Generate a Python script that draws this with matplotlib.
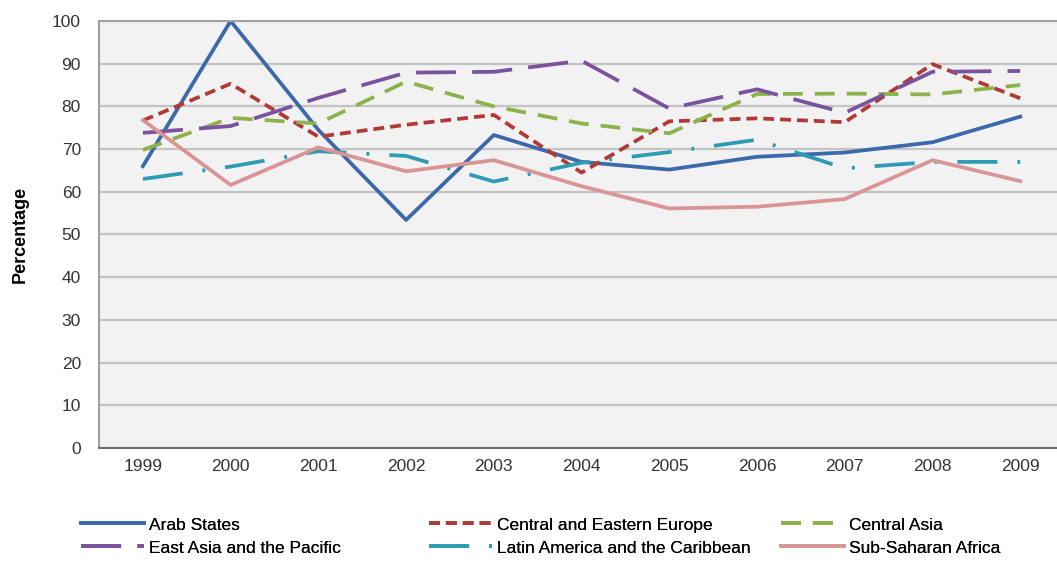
import matplotlib.pyplot as plt
from matplotlib import font_manager

# Data
years = [1999, 2000, 2001, 2002, 2003, 2004, 2005, 2006, 2007, 2008, 2009]
arab_states = [66, 100, 74.5, 53.4, 73.3, 67, 65.2, 68.2, 69.2, 71.6, 77.6]
central_eastern_europe = [76.7, 85.3, 72.9, 75.7, 78, 64.5, 76.5, 77.2, 76.3, 89.9, 81.9]
central_asia = [69.8, 77.3, 76, 85.8, 80, 76, 73.7, 82.9, 83, 82.8, 85]
east_asia_pacific = [73.8, 75.4, 82, 87.9, 88.1, 90.7, 79.5, 84, 78.5, 88.1, 88.3]
latin_america = [63, 65.9, 69.5, 68.4, 62.4, 66.8, 69.3, 72.2, 65.5, 67, 67]
sub_saharan = [76.8, 61.6, 70.4, 64.8, 67.4, 61.3, 56.1, 56.5, 58.3, 67.4, 62.5]

names = ['Arab States', 'Central and Eastern Europe', 'Central Asia',
         'East Asia and the Pacific', 'Latin America and the Caribbean',
         'Sub-Saharan Africa']
series = [arab_states, central_eastern_europe, central_asia,
          east_asia_pacific, latin_america, sub_saharan]

colors = ['#3C68AC', '#B03A36', '#8CB24A', '#7A52A0', '#2E9BB5', '#D99594']
dashes = [None, (2.9, 1.6), (5.3, 3.2), (10.7, 4.3), (10.7, 5.3, 0.8, 5.3), None]

# font: narrow sans if present
fams = [f.name for f in font_manager.fontManager.ttflist]
if 'Liberation Sans Narrow' in fams:
    plt.rcParams['font.family'] = ['Liberation Sans Narrow', 'DejaVu Sans']
else:
    plt.rcParams['font.family'] = ['Liberation Sans', 'DejaVu Sans']

fig = plt.figure(figsize=(10.57, 5.63), dpi=100)
ax = fig.add_axes([0.0937, 0.2043, 0.913, 0.7584])
ax.set_facecolor('#F2F2F2')

handles = []
for name, vals, c, d in zip(names, series, colors, dashes):
    if d is None:
        h, = ax.plot(years, vals, color=c, lw=2.7, label=name)
    else:
        h, = ax.plot(years, vals, color=c, lw=2.7, label=name, dashes=d)
    handles.append(h)

ax.set_xlim(1998.5, 2009.5)
ax.set_ylim(0, 100)
ax.set_yticks(range(0, 101, 10))
ax.set_xticks(years)
ax.yaxis.grid(True, color='#C4C4C4', lw=1.6)
ax.set_axisbelow(True)
ax.tick_params(length=0, labelsize=12.5, labelcolor='#333333')
ax.tick_params(axis='y', pad=13)
ax.tick_params(axis='x', pad=8)
for s in ['left', 'top', 'right']:
    ax.spines[s].set_color('#A0A0A0')
    ax.spines[s].set_linewidth(1.5)
ax.spines['bottom'].set_color('#6E6E6E')
ax.spines['bottom'].set_linewidth(1.5)

ax.set_ylabel('Percentage', fontsize=13, fontweight='bold', labelpad=17)

# legend: three columns placed separately
cols_x = [0.077, 0.406, 0.739]
for i, x in enumerate(cols_x):
    leg = fig.legend(handles=[handles[i], handles[i + 3]], loc='upper left',
                     bbox_to_anchor=(x, 0.081), frameon=False,
                     fontsize=12.5, handlelength=3.6, handletextpad=0.3,
                     labelspacing=0.45, borderaxespad=0, borderpad=0)
    fig.add_artist(leg)

fig.savefig('out.png', dpi=100)
